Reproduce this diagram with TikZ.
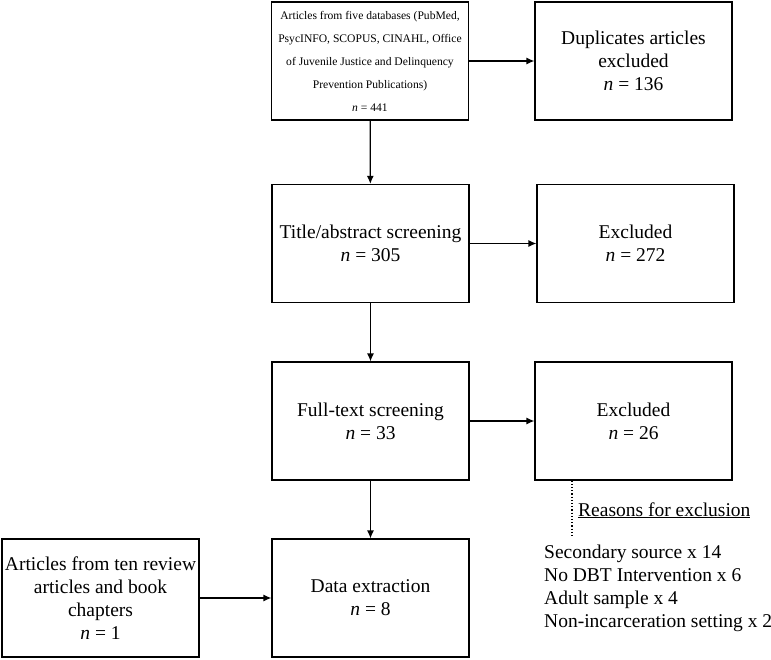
\documentclass[tikz,border=0pt]{standalone}
\usepackage{fontspec}
\setmainfont{Liberation Serif}
\usetikzlibrary{arrows.meta}

\tikzset{
    box/.style={draw, line width=1.2pt, minimum width=197pt, minimum height=118pt,
        inner sep=2pt, align=center, font=\fontsize{19.5}{23}\selectfont},
    arr/.style={-{Latex[length=8pt,width=7pt]}, line width=1.2pt},
    plain/.style={inner sep=0pt, align=left, font=\fontsize{19.5}{23}\selectfont}
}

\begin{document}
\begin{tikzpicture}[x=1pt,y=-1pt]
    \useasboundingbox (0,0) rectangle (771,659);

    % main column
    \node [box, font=\fontsize{11.6}{23}\selectfont] (db) at (370,61)
        {Articles from five databases (PubMed,\\ PsycINFO, SCOPUS, CINAHL, Office\\
         of Juvenile Justice and Delinquency\\ Prevention Publications)\\ \textit{n} = 441};
    \node [box] (title) at (370.5,243.5) {Title/abstract screening\\ \textit{n} = 305};
    \node [box] (full) at (370.5,421) {Full-text screening\\ \textit{n} = 33};
    \node [box] (data) at (370.5,598) {Data extraction\\ \textit{n} = 8};

    % side boxes
    \node [box] (dup) at (633.5,61) {Duplicates articles\\ excluded\\ \textit{n} = 136};
    \node [box] (excA) at (635.5,243.5) {Excluded\\ \textit{n} = 272};
    \node [box] (excB) at (633.5,421) {Excluded\\ \textit{n} = 26};
    \node [box] (review) at (100.5,598)
        {Articles from ten review\\ articles and book\\ chapters\\ \textit{n} = 1};

    % arrows
    \draw [arr] (db) -- (title);
    \draw [arr] (title) -- (full);
    \draw [arr] (full) -- (data);
    \draw [arr] (db.east) -- (db.east -| dup.west);
    \draw [arr] (title) -- (excA);
    \draw [arr] (full) -- (excB);
    \draw [arr] (review) -- (data);

    % reasons for exclusion
    \coordinate (why) at (572,537);
    \draw [dotted, line width=1.2pt] (excB.south -| why) -- (why);
    \node [plain, anchor=base west] (whyhead) at (578,516) {\underline{Reasons for exclusion}};
    \node [plain, anchor=north west] (whylist) at (544,545)
        {Secondary source x 14\\ No DBT Intervention x 6\\ Adult sample x 4\\ Non-incarceration setting x 2};
\end{tikzpicture}
\end{document}
